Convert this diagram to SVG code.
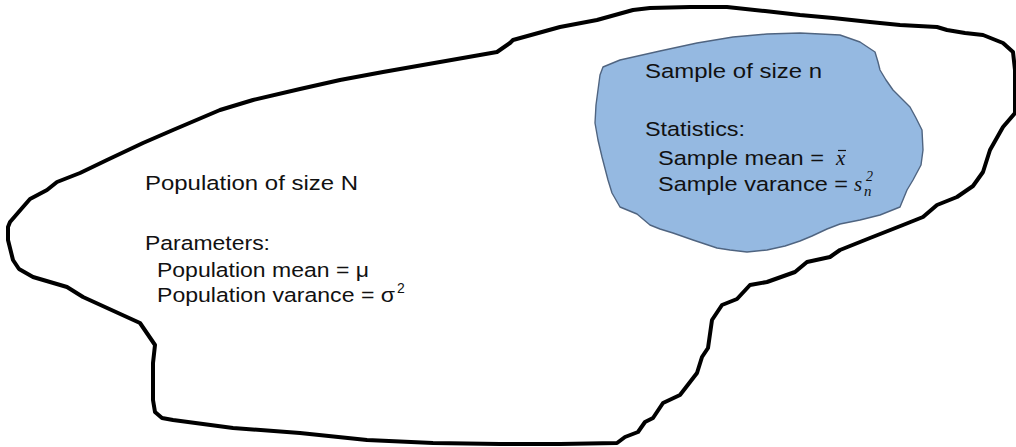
<svg xmlns="http://www.w3.org/2000/svg" width="1016" height="447" viewBox="0 0 1016 447">
  <style>
    .outline { fill: #ffffff; stroke: #000000; stroke-width: 4; stroke-linejoin: round; stroke-linecap: round; }
    .blob { fill: #95b9e1; stroke: #4f6480; stroke-width: 1.4; stroke-linejoin: round; }
    .lbl { font-family: "Liberation Sans", Arial, sans-serif; font-size: 20.5px; fill: #111111; }
    .sup { font-family: "Liberation Sans", Arial, sans-serif; font-size: 14px; fill: #111111; }
    .math { font-family: "Liberation Serif", "Times New Roman", serif; font-style: italic; fill: #111111; }
  </style>

  <!-- population: hand-drawn outer region -->
  <g id="population">
    <path class="outline" d="M10,222 L23,207 L30,199 L47,190 L57,182 L80,173 L107,160 L143,143 L173,130 L220,110 L253,100 L300,89 L340,80 L383,72 L440,62 L497,52 L510,43 L513,40 L560,27 L597,20 L633,10 L650,8 L690,7 L727,7 L765,11 L800,15 L833,18 L870,22 L900,25 L937,27 L947,30 L965,33 L983,35 L1003,43 L1013,52 L1015,70 L1015,95 L1015,113 L1003,127 L990,150 L983,172 L973,186 L957,197 L937,205 L923,217 L903,225 L870,238 L840,250 L830,257 L807,262 L795,272 L767,282 L750,285 L737,299 L722,305 L712,320 L708,348 L702,357 L697,373 L680,395 L663,403 L653,418 L645,422 L638,432 L625,437 L617,443 L560,444 L500,444 L433,443 L367,440 L300,433 L233,428 L173,420 L162,418 L155,412 L153,400 L153,363 L155,345 L140,323 L83,297 L67,287 L33,277 L19,269 L13,260 L8,240 L8,227 Z"/>
    <text class="lbl" x="145" y="190" textLength="213" lengthAdjust="spacingAndGlyphs">Population of size N</text>
    <text class="lbl" x="145" y="250" textLength="125" lengthAdjust="spacingAndGlyphs">Parameters:</text>
    <text class="lbl" x="157" y="277" textLength="212" lengthAdjust="spacingAndGlyphs">Population mean = μ</text>
    <text class="lbl" x="157" y="302" textLength="238" lengthAdjust="spacingAndGlyphs">Population varance = σ</text>
    <text class="sup" x="397" y="293">2</text>
  </g>

  <!-- sample: shaded inner region -->
  <g id="sample">
    <path class="blob" d="M603,67 L620,60 L660,51 L697,43 L733,37 L767,34 L800,33 L840,35 L860,42 L875,52 L878,62 L880,70 L886,80 L893,90 L910,107 L916,118 L922,130 L923,150 L921,165 L913,180 L907,190 L900,207 L880,215 L860,220 L840,224 L827,229 L812,236 L800,241 L785,246 L767,250 L747,252 L730,250 L717,248 L705,244 L693,240 L673,233 L660,229 L650,225 L637,214 L620,207 L612,193 L608,180 L602,157 L598,140 L595,123 L596,105 L598,90 L600,75 Z"/>
    <text class="lbl" x="645" y="78" textLength="177" lengthAdjust="spacingAndGlyphs">Sample of size n</text>
    <text class="lbl" x="645" y="136" textLength="100" lengthAdjust="spacingAndGlyphs">Statistics:</text>
    <text class="lbl" x="658" y="165" textLength="166" lengthAdjust="spacingAndGlyphs">Sample mean =</text>
    <text class="math" x="836" y="165" font-size="21">x</text>
    <line x1="838" y1="150.5" x2="846" y2="150.5" stroke="#111111" stroke-width="1.2"/>
    <text class="lbl" x="658" y="191" textLength="190" lengthAdjust="spacingAndGlyphs">Sample varance =</text>
    <text class="math" x="854" y="191" font-size="21">s</text>
    <text class="math" x="864" y="196" font-size="15">n</text>
    <text class="math" x="866" y="181" font-size="14" font-style="normal">2</text>
  </g>

  <!-- no connectors in this figure -->
  <g id="connectors"/>
</svg>
